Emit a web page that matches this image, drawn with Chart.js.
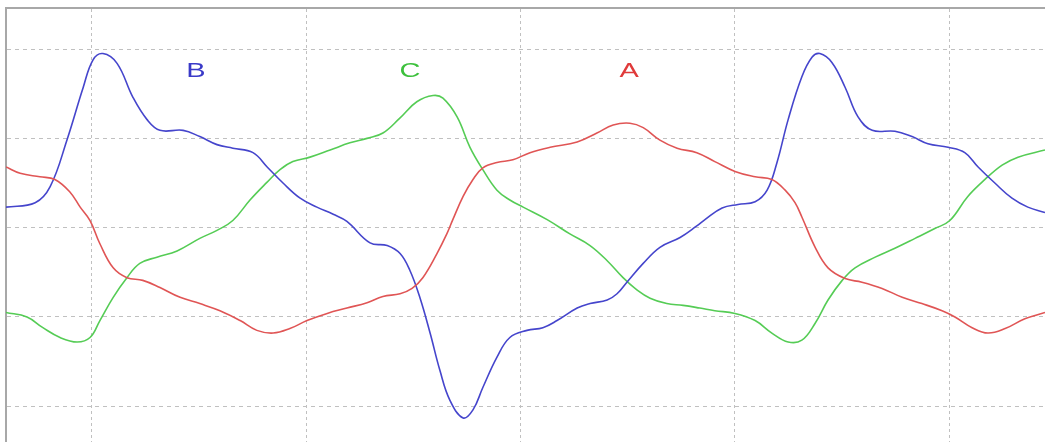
<!DOCTYPE html>
<html>
<head>
<meta charset="utf-8">
<script src="https://cdn.jsdelivr.net/npm/chart.js@4/dist/chart.umd.min.js"></script>
<style>
  html, body { margin: 0; padding: 0; background: #fff; }
  #wrap { width: 1045px; height: 442px; }
</style>
</head>
<body>
<div id="wrap"><canvas id="wave"></canvas></div>
<script>
// time in ms, value in arbitrary units (100 per grid division)
const phaseA = [
  [0.00, 68], [0.33, 61], [0.79, 57], [1.14, 54], [1.49, 40], [1.73, 23], [1.96, 8],
  [2.19, -18], [2.50, -45], [2.82, -56], [3.19, -59], [3.59, -67], [4.06, -78],
  [4.52, -85], [4.99, -93], [5.46, -104], [5.85, -115], [6.23, -118], [6.62, -113],
  [7.02, -104], [7.49, -96], [7.95, -90], [8.42, -84], [8.79, -77], [9.19, -74],
  [9.47, -68], [9.72, -56], [10.05, -29], [10.28, -7], [10.42, 9], [10.66, 35],
  [10.89, 54], [11.12, 67], [11.45, 73], [11.82, 76], [12.22, 84], [12.69, 90],
  [13.32, 96], [13.78, 106], [14.16, 115], [14.55, 117], [14.86, 112], [15.25, 98],
  [15.65, 89], [16.11, 84], [16.53, 74], [17.00, 63], [17.47, 57], [17.86, 54],
  [18.17, 42], [18.40, 28], [18.56, 12], [18.87, -22], [19.17, -45], [19.57, -57],
  [19.96, -61], [20.43, -68], [20.90, -78], [21.36, -85], [21.83, -93], [22.13, -100],
  [22.53, -112], [22.90, -118], [23.30, -113], [23.76, -102], [24.23, -95]
];

const phaseB = [
  [0.00, 23], [0.68, 28], [1.03, 46], [1.42, 98], [1.80, 157], [2.03, 188], [2.26, 195],
  [2.59, 184], [2.96, 146], [3.29, 121], [3.59, 109], [4.13, 109], [4.52, 102],
  [4.92, 93], [5.29, 89], [5.76, 84], [6.09, 68], [6.46, 50], [6.86, 33], [7.25, 23],
  [7.63, 15], [7.95, 7], [8.49, -17], [8.89, -20], [9.19, -29], [9.42, -48],
  [9.65, -78], [9.89, -118], [10.12, -160], [10.35, -193], [10.66, -213], [10.89, -204],
  [11.12, -179], [11.45, -145], [11.75, -123], [12.15, -115], [12.52, -112],
  [12.85, -104], [13.32, -90], [13.62, -85], [14.02, -81], [14.25, -74], [14.48, -61],
  [14.86, -40], [15.25, -22], [15.72, -11], [16.11, 2], [16.30, 9], [16.70, 22],
  [17.07, 26], [17.47, 29], [17.75, 42], [17.98, 73], [18.24, 121], [18.56, 169],
  [18.80, 191], [18.98, 195], [19.26, 185], [19.57, 157], [19.87, 124], [20.20, 109],
  [20.73, 108], [21.13, 102], [21.50, 94], [21.97, 90], [22.36, 84], [22.67, 68],
  [23.06, 50], [23.46, 33], [23.83, 23], [24.23, 17]
];

const phaseC = [
  [0.00, -95], [0.49, -100], [0.86, -112], [1.26, -123], [1.66, -128], [1.96, -123],
  [2.19, -104], [2.50, -78], [2.82, -56], [3.12, -40], [3.52, -33], [3.99, -26],
  [4.52, -12], [4.92, -3], [5.29, 8], [5.69, 31], [6.09, 51], [6.39, 65], [6.69, 74],
  [7.09, 79], [7.56, 87], [8.02, 95], [8.42, 100], [8.79, 106], [9.19, 123],
  [9.58, 141], [9.96, 148], [10.19, 145], [10.52, 124], [10.82, 90], [11.12, 65],
  [11.45, 42], [11.75, 31], [12.06, 23], [12.62, 9], [13.15, -7], [13.62, -20],
  [14.02, -37], [14.39, -56], [14.72, -70], [15.02, -79], [15.41, -85], [15.79, -87],
  [16.18, -90], [16.53, -93], [17.00, -96], [17.47, -104], [17.86, -118], [18.24, -128],
  [18.56, -126], [18.87, -107], [19.17, -81], [19.50, -59], [19.80, -45], [20.27, -33],
  [20.73, -23], [21.20, -12], [21.66, -1], [22.01, 8], [22.43, 35], [22.83, 54],
  [23.23, 70], [23.60, 79], [24.23, 87]
];

const xGrid = [2, 7, 12, 17, 22];
const yGrid = [200, 100, 0, -100, -200];

// phase name, time, value
const phaseLabels = [
  ["B", 4.43, 175],
  ["C", 9.42, 175],
  ["A", 14.53, 175]
];

const colors = { A: "#e05555", B: "#4545cc", C: "#55cc55" };
const labelColors = { A: "#e03a3a", B: "#3a3ac8", C: "#3cc03c" };

const toPoints = (arr) => arr.map(([x, y]) => ({ x, y }));

const mkSet = (name, arr) => ({
  label: name,
  data: toPoints(arr),
  borderColor: colors[name],
  borderWidth: 1.6,
  pointRadius: 0,
  fill: false,
  tension: 0.4,
});

const phaseText = {
  id: "phaseText",
  afterDatasetsDraw(chart) {
    const { ctx, scales } = chart;
    ctx.save();
    ctx.font = "20px 'Liberation Sans', Arial, sans-serif";
    ctx.textAlign = "center";
    ctx.textBaseline = "middle";
    phaseLabels.forEach(([txt, t, v]) => {
      const px = scales.x.getPixelForValue(t);
      const py = scales.y.getPixelForValue(v);
      ctx.save();
      ctx.translate(px, py);
      ctx.scale(1.45, 1);
      ctx.fillStyle = labelColors[txt];
      ctx.fillText(txt, 0, 0);
      ctx.restore();
    });
    ctx.restore();
  },
};

const gridStyle = {
  color: "#c0c0c0",
  lineWidth: 1,
  drawTicks: false,
};

new Chart(document.getElementById("wave"), {
  type: "line",
  data: {
    datasets: [mkSet("A", phaseA), mkSet("B", phaseB), mkSet("C", phaseC)],
  },
  options: {
    responsive: true,
    maintainAspectRatio: false,
    animation: false,
    layout: { padding: { left: 6, top: 8, right: 0, bottom: 0 } },
    plugins: { legend: { display: false }, tooltip: { enabled: false } },
    scales: {
      x: {
        type: "linear",
        position: "top",
        min: 0,
        max: 24.23,
        afterBuildTicks: (s) => { s.ticks = xGrid.map((v) => ({ value: v })); },
        ticks: { display: false },
        grid: gridStyle,
        border: { display: true, color: "#a8a8a8", width: 2, dash: [3, 3] },
      },
      y: {
        type: "linear",
        min: -240,
        max: 246,
        afterBuildTicks: (s) => { s.ticks = yGrid.map((v) => ({ value: v })); },
        ticks: { display: false },
        grid: gridStyle,
        border: { display: true, color: "#a8a8a8", width: 2, dash: [4, 4] },
      },
    },
  },
  plugins: [phaseText],
});
</script>
</body>
</html>
